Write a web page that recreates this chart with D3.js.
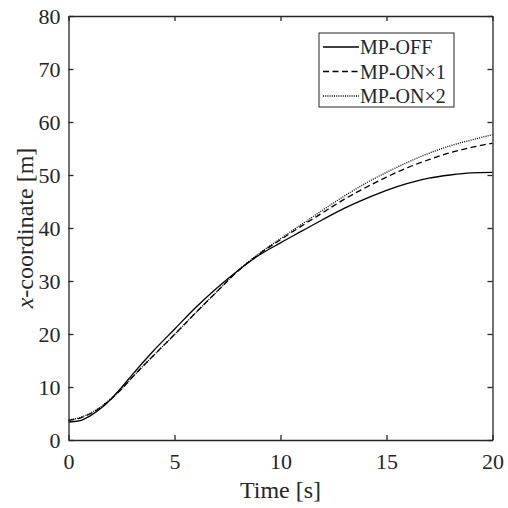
<!DOCTYPE html>
<html>
<head>
<meta charset="utf-8">
<script src="https://cdn.jsdelivr.net/npm/d3@7"></script>
<style>
body { margin: 0; background: #fff; }
svg text { font-family: "Liberation Serif", "Times New Roman", serif; fill: #262626; }
</style>
</head>
<body>
<div id="chart"></div>
<script>
// time samples [s]
var time = [0, 0.5, 1, 1.5, 2, 2.5, 3, 4, 5, 6, 7, 8, 9, 10, 11, 12, 13, 14, 15, 16, 17, 18, 19, 20];
// x-coordinate [m] for each case
var mpOff = [3.4, 3.6, 4.5, 5.9, 7.7, 9.9, 12.3, 16.8, 20.9, 25.0, 28.7, 32.0, 34.9, 37.2, 39.4, 41.6, 43.7, 45.5, 47.1, 48.4, 49.4, 50.0, 50.4, 50.5];
var mpOn1 = [3.7, 4.1, 4.9, 6.1, 7.7, 9.6, 11.8, 15.9, 19.9, 24.0, 28.0, 31.9, 35.1, 37.8, 40.4, 42.9, 45.4, 47.6, 49.6, 51.4, 52.9, 54.2, 55.2, 56.0];
var mpOn2 = [3.8, 4.2, 5.0, 6.2, 7.8, 9.6, 11.8, 15.9, 19.9, 24.0, 28.0, 32.0, 35.2, 38.0, 40.7, 43.4, 46.0, 48.4, 50.5, 52.4, 54.1, 55.5, 56.6, 57.6];
var seriesNames = ["MP-OFF", "MP-ON\u00d71", "MP-ON\u00d72"];
var xTicks = [0, 5, 10, 15, 20];
var yTicks = [0, 10, 20, 30, 40, 50, 60, 70, 80];

var w = 508, h = 508;
var pLeft = 68.5, pRight = 492.5, pTop = 16, pBottom = 440; // plot box
var axisColor = "#262626";

var svg = d3.select("#chart").append("svg")
    .attr("width", w)
    .attr("height", h);

var x = d3.scaleLinear().domain([0, 20]).range([pLeft, pRight]);
var y = d3.scaleLinear().domain([0, 80]).range([pBottom, pTop]);

var series = [mpOff, mpOn1, mpOn2];
var dashes = [null, "6,3.5", "1,1.2"];

var line = d3.line()
    .x(function(d, i) { return x(time[i]); })
    .y(function(d) { return y(d); })
    .curve(d3.curveMonotoneX);

svg.selectAll(".series")
    .data(series)
    .enter()
    .append("path")
    .attr("class", "series")
    .attr("d", function(d) { return line(d); })
    .attr("fill", "none")
    .attr("stroke", "#000")
    .attr("stroke-width", 1.3)
    .attr("stroke-dasharray", function(d, i) { return dashes[i]; });

// axes with inward ticks on all four sides
function styleAxis(g) {
    g.selectAll("path").attr("stroke", axisColor).attr("stroke-width", 1.3);
    g.selectAll("line").attr("stroke", axisColor).attr("stroke-width", 1.3);
}

svg.append("g")
    .attr("transform", "translate(0," + pBottom + ")")
    .call(d3.axisBottom(x).tickValues(xTicks).tickSizeInner(-5).tickSizeOuter(0).tickPadding(13))
    .call(styleAxis)
    .selectAll("text")
    .attr("font-size", 22)
    .attr("fill", axisColor);

svg.append("g")
    .attr("transform", "translate(" + pLeft + ",0)")
    .call(d3.axisLeft(y).tickValues(yTicks).tickSizeInner(-5).tickSizeOuter(0).tickPadding(8))
    .call(styleAxis)
    .selectAll("text")
    .attr("font-size", 22)
    .attr("fill", axisColor);

svg.append("g")
    .attr("transform", "translate(0," + pTop + ")")
    .call(d3.axisTop(x).tickValues(xTicks).tickSizeInner(-5).tickSizeOuter(0).tickFormat(""))
    .call(styleAxis);

svg.append("g")
    .attr("transform", "translate(" + pRight + ",0)")
    .call(d3.axisRight(y).tickValues(yTicks).tickSizeInner(-5).tickSizeOuter(0).tickFormat(""))
    .call(styleAxis);

// axis labels
svg.append("text")
    .attr("x", (pLeft + pRight) / 2)
    .attr("y", 498)
    .attr("text-anchor", "middle")
    .attr("font-size", 24)
    .text("Time [s]");

var yl = svg.append("text")
    .attr("transform", "translate(33," + ((pTop + pBottom) / 2) + ") rotate(-90)")
    .attr("text-anchor", "middle")
    .attr("font-size", 24);
yl.append("tspan").attr("font-style", "italic").text("x");
yl.append("tspan").text("-coordinate [m]");

// legend
var legend = svg.append("g").attr("transform", "translate(319,33)");
legend.append("rect")
    .attr("width", 135)
    .attr("height", 74)
    .attr("fill", "#fff")
    .attr("stroke", axisColor)
    .attr("stroke-width", 1);

var items = legend.selectAll(".item")
    .data(seriesNames)
    .enter()
    .append("g")
    .attr("class", "item")
    .attr("transform", function(d, i) { return "translate(0," + (14 + i * 24.5) + ")"; });

items.append("line")
    .attr("x1", 4)
    .attr("x2", 40)
    .attr("stroke", "#000")
    .attr("stroke-width", 1.3)
    .attr("stroke-dasharray", function(d, i) { return dashes[i]; });

items.append("text")
    .attr("x", 41)
    .attr("dy", "0.35em")
    .attr("font-size", 20)
    .text(function(d) { return d; });
</script>
</body>
</html>
